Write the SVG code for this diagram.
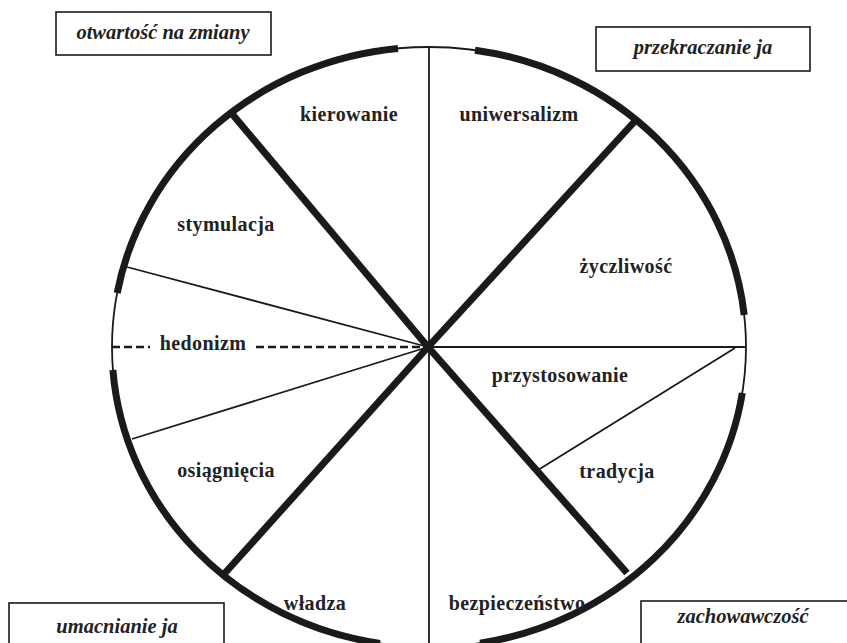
<svg xmlns="http://www.w3.org/2000/svg" width="847" height="643" viewBox="0 0 847 643">
<style>
.thin{stroke:#1a1a1a;stroke-width:1.8;fill:none}
.thick{stroke:#1a1a1a;stroke-width:7;fill:none}
.dash{stroke:#1a1a1a;stroke-width:2.6;stroke-dasharray:8 4;fill:none}
.lbl{font-family:"Liberation Serif","Times New Roman",serif;font-weight:bold;font-size:20px;letter-spacing:0.4px;fill:#222;text-anchor:middle}
.grp{font-family:"Liberation Serif","Times New Roman",serif;font-weight:bold;font-style:italic;font-size:20.5px;fill:#222;text-anchor:middle}
.box{fill:#fff;stroke:#1a1a1a;stroke-width:1.6}
</style>
<rect width="847" height="643" fill="#fff"/>
<g id="connectors">
<ellipse class="thin" cx="429" cy="347" rx="317" ry="300"/>
<path class="thick" d="M475 50.2 A317 300 0 0 1 744.2 315"/>
<path class="thick" d="M742.3 393 A317 300 0 0 1 480 643.1"/>
<path class="thick" d="M380 643.4 A317 300 0 0 1 112.9 370"/>
<path class="thick" d="M117.2 293 A317 300 0 0 1 398 48.4"/>
<line class="thin" x1="429" y1="47" x2="429" y2="643"/>
<line class="thin" x1="428" y1="347" x2="746" y2="347"/>
<line class="thin" x1="428" y1="347" x2="127" y2="267"/>
<line class="thin" x1="428" y1="347" x2="132" y2="439"/>
<line class="thin" x1="735" y1="348" x2="538" y2="470"/>
<line class="thick" x1="428" y1="347" x2="233" y2="115"/>
<line class="thick" x1="428" y1="347" x2="635" y2="121"/>
<line class="thick" x1="428" y1="347" x2="225" y2="573"/>
<line class="thick" x1="428" y1="347" x2="627" y2="573"/>
<line class="dash" x1="112" y1="347" x2="150" y2="347"/>
<line class="dash" x1="256" y1="347" x2="426" y2="347"/>
</g>
<g id="kierowanie"><text class="lbl" x="349" y="121">kierowanie</text></g>
<g id="uniwersalizm"><text class="lbl" x="519" y="121">uniwersalizm</text></g>
<g id="stymulacja"><text class="lbl" x="226" y="231">stymulacja</text></g>
<g id="zyczliwosc"><text class="lbl" x="626" y="273">życzliwość</text></g>
<g id="hedonizm"><text class="lbl" x="203" y="350">hedonizm</text></g>
<g id="przystosowanie"><text class="lbl" x="560" y="382">przystosowanie</text></g>
<g id="osiagniecia"><text class="lbl" x="226" y="477">osiągnięcia</text></g>
<g id="tradycja"><text class="lbl" x="617" y="478">tradycja</text></g>
<g id="wladza"><text class="lbl" x="315" y="610">władza</text></g>
<g id="bezpieczenstwo"><text class="lbl" x="517" y="610">bezpieczeństwo</text></g>
<g id="otwartosc"><rect class="box" x="56" y="12" width="215" height="43"/><text class="grp" x="163" y="39">otwartość na zmiany</text></g>
<g id="przekraczanie"><rect class="box" x="596" y="27" width="214" height="44"/><text class="grp" x="703" y="54">przekraczanie ja</text></g>
<g id="umacnianie"><rect class="box" x="9" y="603" width="215" height="50"/><text class="grp" x="117" y="633">umacnianie ja</text></g>
<g id="zachowawczosc"><rect class="box" x="641" y="601" width="220" height="50"/><text class="grp" x="743" y="623">zachowawczość</text></g>
</svg>
